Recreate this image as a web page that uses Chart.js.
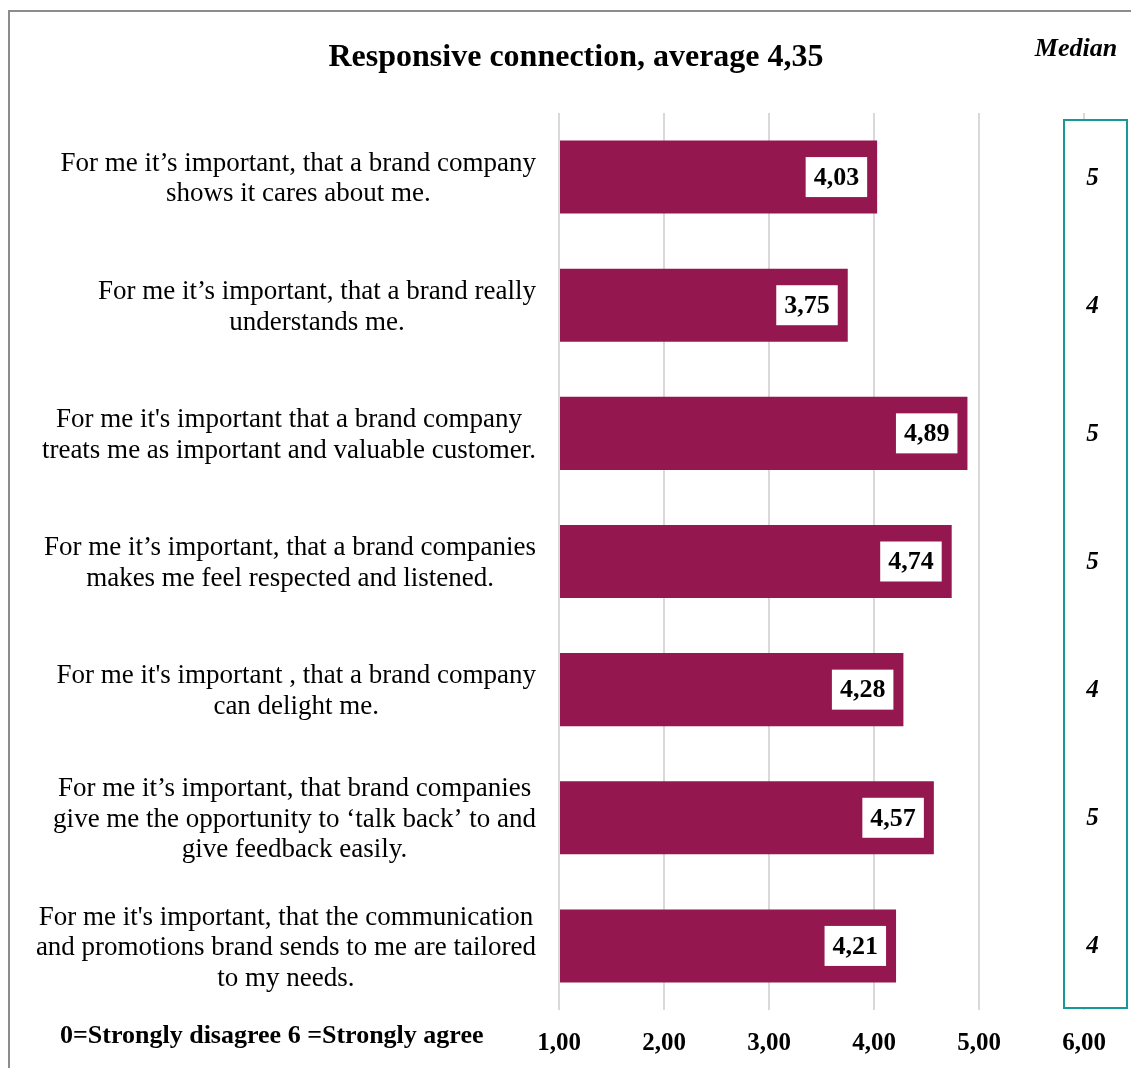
<!DOCTYPE html>
<html>
<head>
<meta charset="utf-8">
<title>Responsive connection</title>
<script src="https://cdn.jsdelivr.net/npm/chart.js@4/dist/chart.umd.min.js"></script>
<style>
  html, body { margin: 0; padding: 0; background: #fff; }
  #wrap { width: 1131px; height: 1068px; }
</style>
</head>
<body>
<div id="wrap"><canvas id="chart" width="1131" height="1068"></canvas></div>
<script>
var statements = [
    ["For me it\u2019s important, that a brand company", "shows it cares about me."],
    ["For me it\u2019s important, that a brand really", "understands me."],
    ["For me it's important that a brand company", "treats me as important and valuable customer."],
    ["For me it\u2019s important, that a brand companies", "makes me feel respected and listened."],
    ["For me it's important , that a brand company", "can delight me."],
    ["For me it\u2019s important, that brand companies", "give me the opportunity to \u2018talk back\u2019 to and", "give feedback easily."],
    ["For me it's important, that the communication", "and promotions brand sends to me are tailored", "to my needs."]
];
var averages = [4.03, 3.75, 4.89, 4.74, 4.28, 4.57, 4.21];
var medians = [5, 4, 5, 5, 4, 5, 4];
var axisMin = 1, axisMax = 6;

var SERIF = '"Liberation Serif", "DejaVu Serif", serif';
var BAR_COLOR = '#95174f';
var TEAL = '#17999a';

function comma(v) { return v.toFixed(2).replace('.', ','); }

// frame, title, median column, category labels and value boxes
var decorations = {
    id: 'decorations',
    beforeDraw: function(chart) {
        var ctx = chart.ctx;
        ctx.save();
        ctx.strokeStyle = '#8c8c8c';
        ctx.lineWidth = 2;
        ctx.beginPath();
        ctx.moveTo(9, chart.height);
        ctx.lineTo(9, 11);
        ctx.lineTo(chart.width, 11);
        ctx.stroke();
        ctx.restore();
    },
    afterDatasetsDraw: function(chart) {
        var ctx = chart.ctx;
        var area = chart.chartArea;
        var y = chart.scales.y;
        var meta = chart.getDatasetMeta(0);
        ctx.save();

        // title and header
        ctx.fillStyle = '#000';
        ctx.textBaseline = 'middle';
        ctx.textAlign = 'center';
        ctx.font = 'bold 32px ' + SERIF;
        ctx.fillText('Responsive connection, average 4,35', 576, 58);
        ctx.font = 'italic bold 26px ' + SERIF;
        ctx.fillText('Median', 1076, 49);

        // median column box
        var bx = area.right - 20, bw = 63;
        ctx.fillStyle = '#fff';
        ctx.fillRect(bx, area.top + 7, bw, area.bottom - area.top - 9);
        ctx.strokeStyle = TEAL;
        ctx.lineWidth = 2;
        ctx.strokeRect(bx, area.top + 7, bw, area.bottom - area.top - 9);
        ctx.fillStyle = '#000';
        ctx.font = 'italic bold 25px ' + SERIF;
        medians.forEach(function(m, i) {
            ctx.fillText(String(m), bx + bw / 2 - 3, y.getPixelForValue(i) + 1);
        });

        // category labels: block right-aligned, lines centred inside
        ctx.font = '27px ' + SERIF;
        var lineH = 30.5;
        statements.forEach(function(lines, i) {
            var w = 0;
            lines.forEach(function(l) { w = Math.max(w, ctx.measureText(l).width); });
            var cx = area.left - 23 - w / 2;
            var cy = y.getPixelForValue(i) + 2 - (lines.length - 1) * lineH / 2;
            lines.forEach(function(l, k) { ctx.fillText(l, cx, cy + k * lineH); });
        });

        // value boxes at bar ends
        ctx.font = 'bold 26px ' + SERIF;
        meta.data.forEach(function(bar, i) {
            var txt = comma(averages[i]);
            var tw = ctx.measureText(txt).width;
            var w = tw + 16, h = 40;
            var right = bar.x - 10;
            ctx.fillStyle = '#fff';
            ctx.fillRect(right - w, bar.y - h / 2, w, h);
            ctx.fillStyle = '#000';
            ctx.fillText(txt, right - w / 2, bar.y + 1);
        });

        // scale footnote
        ctx.textAlign = 'left';
        ctx.font = 'bold 26px ' + SERIF;
        ctx.fillText('0=Strongly disagree 6 =Strongly agree', 60, 1036);
        ctx.restore();
    }
};

var ctx = document.getElementById('chart').getContext('2d');
new Chart(ctx, {
    type: 'bar',
    data: {
        labels: statements,
        datasets: [{
            data: averages,
            base: axisMin,
            backgroundColor: BAR_COLOR,
            barPercentage: 0.57,
            categoryPercentage: 1
        }]
    },
    options: {
        indexAxis: 'y',
        responsive: false,
        animation: false,
        layout: { padding: { top: 113, right: 47, left: 0, bottom: 0 } },
        plugins: {
            legend: { display: false },
            title: { display: false },
            tooltip: { enabled: false }
        },
        scales: {
            x: {
                min: axisMin,
                max: axisMax,
                afterFit: function(scale) { scale.height = 58; },
                ticks: {
                    stepSize: 1,
                    padding: 19,
                    color: '#000',
                    font: { family: SERIF, size: 25, weight: 'bold' },
                    callback: function(v) { return comma(v); }
                },
                grid: { color: '#d9d9d9', lineWidth: 2, drawTicks: false },
                border: { display: false }
            },
            y: {
                afterFit: function(scale) { scale.width = 559; },
                ticks: { display: false },
                grid: { display: false },
                border: { display: false }
            }
        }
    },
    plugins: [decorations]
});
</script>
</body>
</html>
